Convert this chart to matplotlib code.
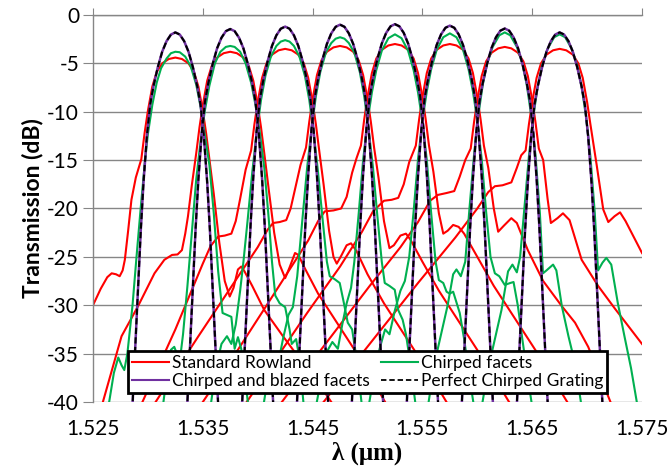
import matplotlib
matplotlib.use("Agg")
import matplotlib.pyplot as plt
from matplotlib.lines import Line2D

plt.rcParams['font.family'] = ['Lato', 'DejaVu Sans']
plt.rcParams['axes.unicode_minus'] = False

# channel centres (um) and peak levels (dB)
centers = [1.5325, 1.5375, 1.5425, 1.5475, 1.5525, 1.5575, 1.5625, 1.5675]
peak_perfect = [-1.8, -1.45, -1.2, -1.0, -0.95, -1.1, -1.4, -1.8]

# perfect grating passband: offset (nm) / drop below peak (dB)
perfect_off = [-4.2, -3.9, -3.65, -3.4, -3.15, -2.9, -2.6, -2.3, -2.0, -1.6, -1.2, -0.8, -0.4, 0,
               0.4, 0.8, 1.2, 1.6, 2.0, 2.3, 2.6, 2.9, 3.15, 3.4, 3.65, 3.9, 4.2]
perfect_drop = [46, 38.5, 32.5, 26.5, 20.5, 15.5, 10.8, 7.5, 5.6, 3.6, 2.0, 0.9, 0.22, 0,
                0.22, 0.9, 2.0, 3.6, 5.6, 7.5, 10.8, 15.5, 20.5, 26.5, 32.5, 38.5, 46]

# standard Rowland: (offset nm, dB) per channel
rowland = [
    [(-8.0, -31.5), (-7.5, -30), (-6.8, -28.3), (-6.2, -27.1), (-5.8, -26.7), (-5.4, -26.8), (-5.07, -27.0),
     (-4.8, -26.4), (-4.6, -25.3), (-4.3, -22.3), (-4.0, -19.1), (-3.6, -16.8), (-3.1, -14.9), (-2.8, -12.2),
     (-2.5, -9.9), (-2.1, -7.4), (-1.7, -5.9), (-1.2, -5.0), (-0.6, -4.55), (0, -4.4), (0.6, -4.55), (1.2, -5.0),
     (1.7, -5.9), (2.1, -7.4), (2.5, -9.9), (2.8, -12.2), (3.1, -14.9), (3.5, -18.5), (4.0, -23.5), (4.5, -27.5),
     (4.95, -29.1), (5.3, -28.2), (5.7, -26.3), (6.0, -26.0), (6.3, -26.5), (7.0, -28.0), (8.1, -30.5),
     (9.8, -33.2), (11.5, -35.8), (13.0, -38.0), (14.5, -40.5)],
    [(-11.6, -40), (-9.9, -33.2), (-8.4, -30.1), (-6.9, -26.7), (-6.0, -25.3), (-5.3, -24.8), (-4.8, -24.75),
     (-4.4, -24.3), (-4.1, -22.6), (-3.85, -20.8), (-3.5, -17.6), (-3.1, -14.3), (-2.8, -11.6), (-2.5, -9.3),
     (-2.1, -6.8), (-1.7, -5.3), (-1.2, -4.4), (-0.6, -3.95), (0, -3.8), (0.6, -3.95), (1.2, -4.4), (1.7, -5.3),
     (2.1, -6.8), (2.5, -9.3), (2.8, -11.6), (3.1, -14.3), (3.5, -18.0), (4.0, -22.5), (4.5, -25.8), (5.0, -27.2),
     (5.4, -26.1), (5.9, -24.6), (6.2, -24.8), (6.8, -26.2), (8.0, -28.8), (10.0, -32.3), (12.0, -35.8),
     (14.2, -40.2)],
    [(-13.0, -40), (-10.0, -32.5), (-7.5, -25.7), (-6.8, -23.9), (-6.1, -22.9), (-5.5, -22.8), (-4.9, -22.6),
     (-4.5, -21.3), (-4.1, -19.0), (-3.6, -16.0), (-3.1, -14.0), (-2.8, -11.3), (-2.5, -9.0), (-2.1, -6.5),
     (-1.7, -5.0), (-1.2, -4.1), (-0.6, -3.65), (0, -3.5), (0.6, -3.65), (1.2, -4.1), (1.7, -5.0), (2.1, -6.5),
     (2.5, -9.0), (2.8, -11.3), (3.1, -14.0), (3.5, -17.5), (4.0, -22.3), (4.4, -25.0), (4.7, -25.7),
     (5.1, -24.9), (5.6, -23.8), (6.0, -23.6), (6.5, -24.4), (7.5, -26.8), (9.0, -29.8), (11.0, -33.3),
     (13.0, -36.8), (14.8, -40.2)],
    [(-16.8, -40), (-12.9, -33.2), (-9.5, -27.4), (-7.5, -24.0), (-6.6, -22.2), (-6.1, -21.5), (-5.5, -21.4),
     (-4.9, -21.2), (-4.5, -20.0), (-4.1, -18.0), (-3.6, -15.5), (-3.1, -13.7), (-2.8, -11.0), (-2.5, -8.7),
     (-2.1, -6.2), (-1.7, -4.7), (-1.2, -3.8), (-0.6, -3.35), (0, -3.2), (0.6, -3.35), (1.2, -3.8), (1.7, -4.7),
     (2.1, -6.2), (2.5, -8.7), (2.8, -11.0), (3.1, -13.7), (3.5, -16.8), (4.0, -21.3), (4.5, -24.1),
     (4.9, -23.8), (5.5, -22.8), (6.0, -22.6), (6.4, -23.2), (7.5, -25.5), (9.0, -28.5), (11.0, -32.0),
     (13.0, -35.5), (15.5, -40.2)],
    [(-17.5, -40), (-14.3, -34.6), (-11.0, -28.8), (-7.9, -23.3), (-7.0, -21.3), (-6.4, -20.3), (-5.6, -20.2),
     (-4.9, -20.0), (-4.4, -18.8), (-3.9, -16.3), (-3.5, -14.8), (-3.1, -13.5), (-2.8, -10.8), (-2.5, -8.5),
     (-2.1, -6.0), (-1.7, -4.5), (-1.2, -3.6), (-0.6, -3.15), (0, -3.0), (0.6, -3.15), (1.2, -3.6), (1.7, -4.5),
     (2.1, -6.0), (2.5, -8.5), (2.8, -10.8), (3.1, -13.5), (3.5, -16.2), (4.0, -20.5), (4.4, -22.6),
     (4.8, -22.3), (5.3, -21.7), (5.8, -21.9), (6.3, -22.6), (7.5, -25.0), (9.0, -28.0), (11.0, -31.5),
     (13.0, -35.0), (15.8, -40.2)],
    [(-18.5, -40), (-13.0, -30.8), (-10.0, -26.0), (-8.0, -22.4), (-7.0, -20.3), (-6.0, -19.2), (-5.3, -19.1),
     (-4.7, -18.9), (-4.2, -17.5), (-3.7, -15.2), (-3.1, -13.5), (-2.8, -10.8), (-2.5, -8.5), (-2.1, -6.0),
     (-1.7, -4.5), (-1.2, -3.6), (-0.6, -3.15), (0, -3.0), (0.6, -3.15), (1.2, -3.6), (1.7, -4.5), (2.1, -6.0),
     (2.5, -8.5), (2.8, -10.8), (3.1, -13.5), (3.5, -15.8), (4.0, -20.0), (4.4, -22.4), (4.9, -21.8),
     (5.6, -21.0), (6.1, -21.5), (7.1, -24.3), (8.5, -27.5), (10.2, -30.1), (11.4, -31.8), (12.6, -34.3),
     (14.7, -40.2)],
    [(-20.3, -40), (-17.0, -35.0), (-12.3, -28.0), (-9.5, -24.0), (-7.9, -21.4), (-6.8, -19.2), (-6.1, -18.6),
     (-5.3, -18.4), (-4.6, -18.2), (-4.1, -16.7), (-3.6, -15.0), (-3.1, -13.8), (-2.8, -11.1), (-2.5, -8.8),
     (-2.1, -6.3), (-1.7, -4.8), (-1.2, -3.9), (-0.6, -3.45), (0, -3.3), (0.6, -3.45), (1.2, -3.9), (1.7, -4.8),
     (2.1, -6.3), (2.5, -8.8), (2.8, -11.1), (3.1, -13.8), (3.5, -15.0), (3.9, -19.0), (4.2, -21.5),
     (4.8, -21.0), (5.3, -20.5), (5.9, -21.2), (7.0, -25.3), (8.5, -28.0), (10.0, -30.3), (12.5, -34.0)],
    [(-21.5, -40), (-18.0, -35.0), (-12.9, -27.7), (-9.5, -23.0), (-7.5, -20.0), (-6.5, -18.3), (-5.9, -17.7),
     (-5.2, -17.6), (-4.4, -17.3), (-3.9, -15.8), (-3.5, -14.5), (-3.1, -14.0), (-2.8, -11.3), (-2.5, -9.0),
     (-2.1, -6.5), (-1.7, -5.0), (-1.2, -4.1), (-0.6, -3.65), (0, -3.5), (0.6, -3.65), (1.2, -4.1), (1.7, -5.0),
     (2.1, -6.5), (2.5, -9.0), (2.8, -11.3), (3.37, -15.5), (3.97, -20.1), (4.43, -21.4), (5.0, -20.8),
     (5.5, -20.4), (6.0, -21.3), (7.0, -23.5), (7.5, -24.6), (9.0, -27.0)],
]

# chirped facets: (offset nm, dB) per channel
chirped = [
    [(-6.1, -40.5), (-5.6, -37), (-5.2, -35.4), (-4.9, -36.2), (-4.65, -36.7), (-4.37, -35), (-3.9, -30),
     (-3.5, -24.5), (-3.16, -20), (-2.8, -15.5), (-2.5, -12.3), (-2.1, -9.3), (-1.7, -7.0), (-1.3, -5.5),
     (-0.8, -4.5), (-0.4, -3.95), (0, -3.8), (0.4, -3.85), (0.9, -4.3), (1.4, -5.3), (1.9, -7.2), (2.3, -9.5),
     (2.7, -12.5), (3.1, -15.5), (3.5, -20.5), (3.9, -26.5), (4.3, -30.8), (4.7, -31.0), (5.1, -31.2),
     (5.4, -34.5), (5.7, -33.3), (6.0, -34.5), (6.4, -38), (6.7, -41)],
    [(-6.2, -41), (-5.8, -37.5), (-5.4, -34.6), (-5.1, -34.3), (-4.6, -35.8), (-4.3, -33), (-3.9, -28),
     (-3.5, -22.5), (-3.1, -17), (-2.7, -13), (-2.3, -9.8), (-1.9, -7.3), (-1.4, -5.0), (-0.9, -3.8),
     (-0.4, -3.3), (0, -3.2), (0.4, -3.3), (0.9, -3.8), (1.4, -5.0), (1.9, -7.0), (2.3, -9.3), (2.7, -12.2),
     (3.1, -15.8), (3.5, -21), (3.8, -25.5), (4.1, -29), (4.5, -29.8), (5.0, -30.2), (5.4, -32.5), (5.6, -34),
     (6.0, -33.5), (6.3, -35.5), (6.7, -40.5)],
    [(-6.8, -40.5), (-6.3, -36.5), (-5.8, -34.0), (-5.3, -33.2), (-4.9, -34.0), (-4.5, -32.0), (-4.1, -28.5),
     (-3.8, -25.5), (-3.4, -21.0), (-3.0, -16.3), (-2.6, -12.2), (-2.2, -8.8), (-1.8, -6.3), (-1.3, -4.3),
     (-0.8, -3.2), (-0.4, -2.75), (0, -2.6), (0.4, -2.75), (0.8, -3.2), (1.3, -4.3), (1.8, -6.3), (2.2, -8.8),
     (2.6, -12.2), (3.0, -16.3), (3.4, -21.0), (3.8, -25.5), (4.06, -27.0), (4.5, -27.3), (4.97, -27.7),
     (5.3, -29.5), (5.7, -31.8), (6.1, -32.5), (6.5, -35.5), (7.0, -40.5)],
    [(-7.0, -40.5), (-6.5, -37.0), (-6.0, -35.2), (-5.6, -35.8), (-5.2, -33.5), (-4.7, -31.0), (-4.3, -30.2),
     (-3.9, -27.0), (-3.5, -22.0), (-3.0, -15.8), (-2.6, -11.8), (-2.2, -8.4), (-1.8, -5.9), (-1.3, -3.9),
     (-0.8, -2.9), (-0.4, -2.45), (0, -2.3), (0.4, -2.45), (0.8, -2.9), (1.3, -3.9), (1.8, -5.9), (2.2, -8.4),
     (2.6, -11.8), (3.0, -15.8), (3.4, -20.8), (3.8, -25.5), (4.07, -27.7), (4.5, -28.0), (4.98, -28.4),
     (5.3, -30.5), (5.7, -31.5), (6.0, -33.0), (6.4, -36.0), (6.9, -40.5)],
    [(-7.2, -40.5), (-6.7, -37.5), (-6.2, -34.8), (-5.7, -33.8), (-5.2, -34.5), (-4.8, -32.0), (-4.4, -29.8),
     (-4.0, -28.2), (-3.7, -25.5), (-3.3, -20.5), (-2.9, -15.0), (-2.5, -11.0), (-2.1, -8.0), (-1.7, -5.7),
     (-1.2, -3.7), (-0.6, -2.4), (0, -2.0), (0.6, -2.4), (1.2, -3.7), (1.7, -5.7), (2.1, -8.0), (2.5, -11.0),
     (2.9, -15.0), (3.3, -20.5), (3.7, -25.5), (4.0, -27.4), (4.4, -27.7), (4.7, -28.6), (4.98, -28.8),
     (5.3, -28.6), (5.9, -30.8), (6.3, -33.5), (6.8, -37.5), (7.2, -40.5)],
    [(-7.4, -40.5), (-6.9, -37.0), (-6.4, -34.5), (-5.9, -32.5), (-5.5, -33.0), (-5.0, -30.5), (-4.5, -28.5),
     (-4.1, -27.5), (-3.7, -25.0), (-3.3, -20.3), (-2.9, -14.9), (-2.5, -10.9), (-2.1, -7.9), (-1.7, -5.6),
     (-1.2, -3.6), (-0.6, -2.3), (0, -1.9), (0.6, -2.3), (1.2, -3.6), (1.7, -5.6), (2.1, -7.9), (2.5, -10.9),
     (2.9, -14.9), (3.3, -20.3), (3.7, -25.0), (4.1, -26.7), (4.5, -27.0), (5.0, -27.9), (5.5, -27.7),
     (5.8, -27.6), (6.2, -30.1), (6.6, -33.5), (7.1, -37.5), (7.5, -40.5)],
    [(-7.0, -40.5), (-6.4, -36.0), (-5.8, -33.0), (-5.2, -30.0), (-4.7, -26.8), (-4.4, -26.3), (-4.0, -27.0),
     (-3.6, -25.5), (-3.2, -19.8), (-2.8, -14.5), (-2.4, -10.3), (-2.0, -7.2), (-1.6, -5.0), (-1.1, -3.3),
     (-0.5, -2.1), (0, -1.8), (0.5, -2.1), (1.1, -3.3), (1.6, -5.0), (2.0, -7.2), (2.4, -10.3), (2.8, -14.5),
     (3.2, -20.5), (3.48, -26.7), (3.8, -26.4), (4.4, -25.8), (4.7, -26.4), (5.2, -30.1), (5.8, -33.2),
     (6.4, -36.0), (7.0, -40.5)],
    [(-7.1, -40.5), (-6.5, -36.5), (-5.9, -33.5), (-5.3, -30.5), (-4.7, -26.5), (-4.3, -25.8), (-3.9, -26.6),
     (-3.6, -25.0), (-3.2, -19.8), (-2.8, -14.6), (-2.4, -10.5), (-2.0, -7.4), (-1.6, -5.2), (-1.1, -3.5),
     (-0.5, -2.3), (0, -2.0), (0.5, -2.3), (1.1, -3.5), (1.6, -5.2), (2.0, -7.4), (2.4, -10.5), (2.8, -14.6),
     (3.2, -20.5), (3.5, -26.4), (3.9, -25.6), (4.25, -25.1), (4.7, -25.8), (5.3, -29.8), (5.9, -33.2),
     (6.5, -36.5), (7.1, -40.5)],
]

x_ticks = [1.525, 1.535, 1.545, 1.555, 1.565, 1.575]
y_ticks = [0, -5, -10, -15, -20, -25, -30, -35, -40]

RED = '#FF0000'
GREEN = '#00B050'
PURPLE = '#7030A0'
GRID = '#868686'
DASH = (0, (3, 1.6))

fig = plt.figure(figsize=(6.71, 4.67), dpi=100)
ax = fig.add_axes([0.1386, 0.1392, 0.8182, 0.8287])

for c, pts in zip(centers, rowland):
    ax.plot([c + o * 1e-3 for o, _ in pts], [v for _, v in pts], color=RED, lw=1.5)
for c, pts in zip(centers, chirped):
    ax.plot([c + o * 1e-3 for o, _ in pts], [v for _, v in pts], color=GREEN, lw=1.5)
for c, p in zip(centers, peak_perfect):
    xs = [c + o * 1e-3 for o in perfect_off]
    ys = [p - d for d in perfect_drop]
    ax.plot(xs, ys, color=PURPLE, lw=1.8)
    ax.plot(xs, ys, color='black', lw=1.5, ls=DASH)

ax.set_xlim(1.525, 1.575)
ax.set_ylim(-40, 0)
ax.set_xticks(x_ticks)
ax.set_xticklabels(['%.3f' % t for t in x_ticks])
ax.set_yticks(y_ticks)
ax.set_yticklabels([str(t) for t in y_ticks])
ax.yaxis.grid(True, color=GRID, lw=1)
ax.set_axisbelow(True)
for s in ['right', 'bottom']:
    ax.spines[s].set_visible(False)
for s in ['left', 'top']:
    ax.spines[s].set_color(GRID)
    ax.spines[s].set_linewidth(1)
ax.tick_params(axis='x', bottom=False, top=True, labelbottom=True, labeltop=False,
               direction='out', length=5, color=GRID, labelsize=15, pad=7)
ax.tick_params(axis='y', direction='out', length=7, color=GRID, labelsize=15, pad=3)

ax.set_ylabel('Transmission (dB)', fontsize=16.5, fontweight='bold', labelpad=3)
ax.set_xlabel('λ (μm)', fontsize=18, fontweight='bold', family='Liberation Serif', labelpad=2)

handles = [Line2D([], [], color=RED, lw=1.5), Line2D([], [], color=PURPLE, lw=1.5),
           Line2D([], [], color=GREEN, lw=1.5), Line2D([], [], color='black', lw=1.3, ls=DASH)]
labels = ['Standard Rowland', 'Chirped and blazed facets', 'Chirped facets', 'Perfect Chirped Grating']
leg = ax.legend(handles, labels, ncol=2, loc='lower left', bbox_to_anchor=(0.064, 0.023),
                fontsize=12.5, frameon=True, fancybox=False, framealpha=1, edgecolor='black',
                handlelength=2.1, handletextpad=0.15, columnspacing=0.7, borderpad=0.25,
                labelspacing=0.1, borderaxespad=0)
leg.get_frame().set_linewidth(2)

fig.savefig('out.png', dpi=100)
